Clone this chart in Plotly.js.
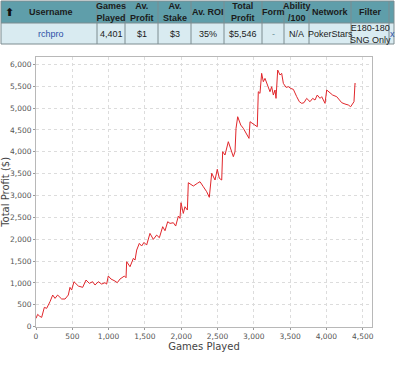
<!DOCTYPE html>
<html>
<head>
<meta charset="utf-8">
<script src="https://cdn.plot.ly/plotly-3.0.1.min.js"></script>
<style>
html,body{margin:0;padding:0;background:#fff;}
#chart{width:400px;height:371px;}
</style>
</head>
<body>
<div id="chart"></div>
<script>
// Table content
const headers = ["Username", "Games<br>Played", "Av.<br>Profit", "Av.<br>Stake", "Av. ROI", "Total<br>Profit", "Form", "Ability<br>/100", "Network", "Filter", ""];
const rowValues = ["rchpro", "4,401", "$1", "$3", "35%", "$5,546", "-", "N/A", "PokerStars", "E180-180<br>SNG Only", "x"];

// Cumulative profit series
const games = [0,23,50,78,115,147,193,230,262,298,354,400,445,468,491,523,583,643,689,735,780,813,859,904,950,973,996,1033,1088,1120,1157,1194,1217,1240,1249,1295,1341,1364,1387,1423,1455,1488,1524,1570,1616,1662,1699,1745,1777,1814,1846,1892,1924,1961,1983,1997,2029,2052,2085,2098,2130,2167,2222,2259,2305,2351,2387,2420,2466,2497,2525,2558,2571,2603,2649,2682,2718,2741,2755,2778,2820,2856,2902,2934,2948,2984,3017,3048,3062,3085,3108,3131,3154,3177,3223,3246,3269,3292,3306,3329,3361,3384,3407,3444,3476,3508,3545,3591,3627,3660,3691,3728,3774,3811,3843,3874,3912,3935,3981,4004,4040,4086,4142,4211,4256,4302,4334,4362,4380,4394,4401];
const profit = [190,282,240,213,442,420,572,724,648,724,633,633,724,900,838,1029,930,900,1067,991,1029,953,1029,975,1006,975,1159,1090,1044,1006,1090,1143,1159,1120,1486,1372,1563,1524,1753,1905,1845,1928,1867,2134,1997,2096,2035,2287,2195,2401,2363,2378,2302,2530,2477,2835,2591,2744,2668,3293,3260,3217,3279,3316,3201,3087,2959,3508,3355,3600,3394,3355,4002,3926,4231,4079,3888,4002,4536,4802,4612,4536,4383,4307,4688,4650,4612,4573,5374,5336,5794,5603,5679,5565,5374,5489,5298,5413,5222,5870,5756,5794,5565,5474,5489,5450,5428,5260,5146,5108,5123,5222,5146,5222,5184,5298,5222,5260,5108,5413,5352,5298,5260,5123,5093,5070,5031,5108,5146,5565,5546];

const xTicks = [0,500,1000,1500,2000,2500,3000,3500,4000,4500];
const yTicks = [0,500,1000,1500,2000,2500,3000,3500,4000,4500,5000,5500,6000];

const W = 400, H = 371;
const colW = [96, 28, 33, 33, 33, 38, 22, 25, 42, 38, 5];
const tableLeft = 1, headTop = 1, headBottom = 23, rowBottom = 44;

const px = x => x / W;
const py = y => (H - y) / H;

const edges = [tableLeft];
colW.forEach(w => edges.push(edges[edges.length - 1] + w));
const tableRight = edges[edges.length - 1];

const shapes = [];
shapes.push({type: 'rect', xref: 'paper', yref: 'paper', x0: px(tableLeft), x1: px(tableRight), y0: py(headBottom), y1: py(headTop), fillcolor: '#5f9eaa', line: {width: 0}, layer: 'below'});
shapes.push({type: 'rect', xref: 'paper', yref: 'paper', x0: px(tableLeft), x1: px(tableRight), y0: py(rowBottom), y1: py(headBottom), fillcolor: '#d9ebf1', line: {width: 0}, layer: 'below'});
edges.forEach(e => shapes.push({type: 'line', xref: 'paper', yref: 'paper', x0: px(e), x1: px(e), y0: py(rowBottom), y1: py(headTop), line: {color: '#7d8c90', width: 1}}));
[headTop, headBottom, rowBottom].forEach(yy => shapes.push({type: 'line', xref: 'paper', yref: 'paper', x0: px(tableLeft), x1: px(tableRight), y0: py(yy), y1: py(yy), line: {color: '#7d8c90', width: 1}}));

const annotations = [];
const tFont = 'Liberation Sans, Arial, sans-serif';
headers.forEach((h, i) => {
  if (!h) return;
  let cx = (edges[i] + edges[i + 1]) / 2;
  if (i === 0) cx = 51;
  annotations.push({xref: 'paper', yref: 'paper', x: px(cx), y: py((headTop + headBottom) / 2 + 0.5), text: '<b>' + h + '</b>', showarrow: false, xanchor: 'center', yanchor: 'middle', font: {family: tFont, size: 9, color: '#1b1b1b'}});
});
rowValues.forEach((v, i) => {
  let cx = (edges[i] + edges[i + 1]) / 2;
  if (i === 0) cx = 51;
  if (i === 10) cx = edges[i] + 3;
  const col = (i === 0 || i === 10) ? '#2c50a8' : (i === 6 ? '#6a8f9a' : '#1b1b1b');
  annotations.push({xref: 'paper', yref: 'paper', x: px(cx), y: py((headBottom + rowBottom) / 2 + 0.5), text: v, showarrow: false, xanchor: 'center', yanchor: 'middle', font: {family: tFont, size: 9, color: col}});
});
annotations.push({xref: 'paper', yref: 'paper', x: px(9), y: py(12), text: '<b>⬆</b>', showarrow: false, xanchor: 'center', yanchor: 'middle', font: {family: 'DejaVu Sans, sans-serif', size: 11, color: '#111'}});

const line = {
  type: 'scatter',
  mode: 'lines',
  x: games,
  y: profit,
  line: {color: '#e0262b', width: 1},
  hoverinfo: 'skip',
  showlegend: false
};

const fmt = v => v.toLocaleString('en-US');
const axisCommon = {
  showgrid: true,
  gridcolor: '#dcdcdc',
  griddash: 'dot',
  gridwidth: 1,
  zeroline: false,
  showline: true,
  linecolor: '#b8b8b8',
  linewidth: 1,
  mirror: true,
  ticks: 'outside',
  ticklen: 2,
  tickcolor: '#999',
  tickfont: {family: 'DejaVu Sans, sans-serif', size: 7.5, color: '#555'},
  fixedrange: true
};

const layout = {
  width: W, height: H,
  margin: {l: 0, r: 0, t: 0, b: 0},
  paper_bgcolor: '#ffffff',
  plot_bgcolor: '#ffffff',
  showlegend: false,
  font: {family: 'DejaVu Sans, sans-serif', size: 8, color: '#444'},
  xaxis: Object.assign({}, axisCommon, {
    domain: [px(36), px(372)],
    range: [0, 4628],
    tickvals: xTicks,
    ticktext: xTicks.map(fmt),
    title: {text: 'Games Played', font: {family: 'DejaVu Sans, sans-serif', size: 10, color: '#444'}, standoff: 2}
  }),
  yaxis: Object.assign({}, axisCommon, {
    domain: [py(326.7), py(57)],
    range: [0, 6168],
    tickvals: yTicks,
    ticktext: yTicks.map(fmt),
    title: {text: 'Total Profit ($)', font: {family: 'DejaVu Sans, sans-serif', size: 10, color: '#444'}, standoff: 3}
  }),
  shapes: shapes,
  annotations: annotations
};

Plotly.newPlot('chart', [line], layout, {staticPlot: true, displayModeBar: false});
</script>
</body>
</html>
